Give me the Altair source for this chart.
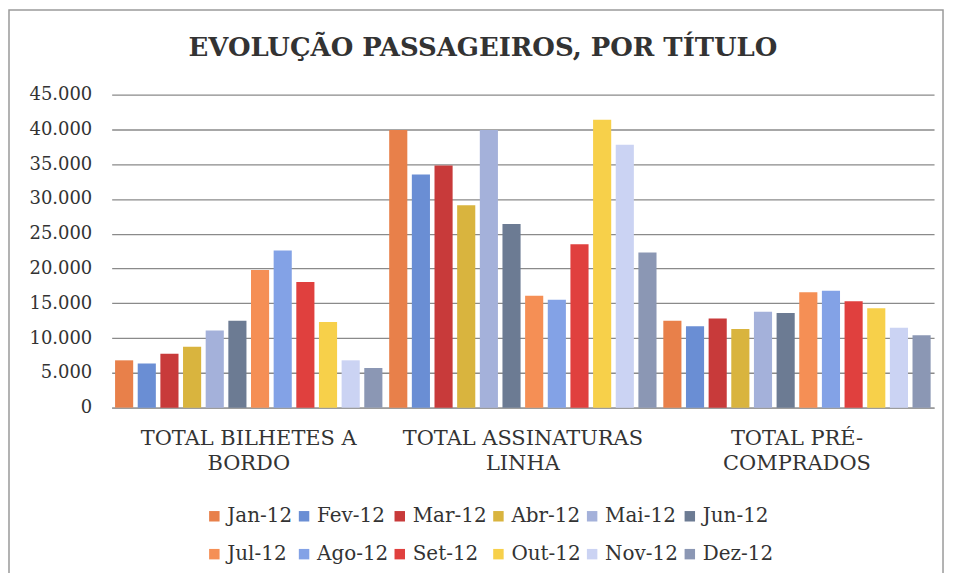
import altair as alt
import pandas as pd

categories = ["TOTAL BILHETES A BORDO", "TOTAL ASSINATURAS LINHA", "TOTAL PRÉ-COMPRADOS"]
category_lines = [["TOTAL BILHETES A", "BORDO"], ["TOTAL ASSINATURAS", "LINHA"], ["TOTAL PRÉ-", "COMPRADOS"]]
months = ["Jan-12", "Fev-12", "Mar-12", "Abr-12", "Mai-12", "Jun-12",
          "Jul-12", "Ago-12", "Set-12", "Out-12", "Nov-12", "Dez-12"]
bilhetes_bordo = [6800, 6350, 7750, 8750, 11100, 12500, 19800, 22600, 18050, 12300, 6800, 5700]
assinaturas_linha = [39900, 33500, 34800, 29100, 39900, 26400, 16100, 15500, 23500, 41400, 37800, 22300]
pre_comprados = [12500, 11700, 12800, 11300, 13800, 13600, 16600, 16800, 15300, 14300, 11500, 10400]
colors = ["#E8804A", "#6A8ED4", "#C83A3A", "#D9B43E", "#A4B1DA", "#6C7B93",
          "#F58F55", "#83A2E6", "#E0403E", "#F7D04A", "#CBD3F3", "#8B97B4"]

rows = []
for cat, vals in zip(categories, [bilhetes_bordo, assinaturas_linha, pre_comprados]):
    for m, v in zip(months, vals):
        rows.append({"categoria": cat, "mes": m, "valor": v})
df = pd.DataFrame(rows)

label_expr = " : ".join(
    f"datum.value == '{c}' ? {lines!r}" for c, lines in zip(categories, category_lines)
) + " : datum.value"

FONT = "DejaVu Serif"

bars = alt.Chart(df).mark_bar().encode(
    x=alt.X("categoria:N", sort=categories, title=None,
            scale=alt.Scale(paddingInner=0, paddingOuter=0),
            axis=alt.Axis(labelExpr=label_expr, labelAngle=0, ticks=False,
                          labelFont=FONT, labelFontSize=21, labelColor="#333",
                          labelLineHeight=25, labelPadding=20, labelLimit=400,
                          domainColor="#999", domainWidth=1.5)),
    xOffset=alt.XOffset("mes:N", sort=months,
                        scale=alt.Scale(paddingInner=0.2, paddingOuter=0.15)),
    y=alt.Y("valor:Q", title=None,
            scale=alt.Scale(domain=[0, 45000], nice=False),
            axis=alt.Axis(values=list(range(0, 45001, 5000)),
                          labelExpr="replace(format(datum.value, ','), ',', '.')",
                          labelFont=FONT, labelFontSize=18, labelColor="#333",
                          labelPadding=20, ticks=False, domain=False,
                          gridColor="#8a8a8a", gridWidth=1.3)),
    color=alt.Color("mes:N", sort=months,
                    scale=alt.Scale(domain=months, range=colors),
                    legend=alt.Legend(title=None, orient="none", legendX=93, legendY=413,
                                      direction="horizontal", columns=6,
                                      symbolType="square", symbolSize=110,
                                      symbolStrokeWidth=0,
                                      labelFont=FONT, labelFontSize=20, labelColor="#333",
                                      columnPadding=1, rowPadding=18, labelOffset=3)),
)

frame = alt.Chart(pd.DataFrame({"a": [0]})).mark_rect(
    fill="transparent", stroke="#9a9a9a", strokeWidth=1.5
).encode(
    x=alt.value(-103), x2=alt.value(834), y=alt.value(-85), y2=alt.value(481)
)

chart = alt.layer(frame, bars).properties(
    width=825, height=314,
    autosize=alt.AutoSizeParams(type="none"),
    padding={"left": 104, "top": 86, "right": 12, "bottom": 165},
    title=alt.TitleParams("EVOLUÇÃO PASSAGEIROS, POR TÍTULO", font=FONT, fontSize=26,
                          fontWeight="bold", color="#333", anchor="middle",
                          frame="group", dx=-40, offset=-52),
).configure_view(stroke=None)

chart.save("out.html", embed_options={"renderer": "svg", "actions": False})
